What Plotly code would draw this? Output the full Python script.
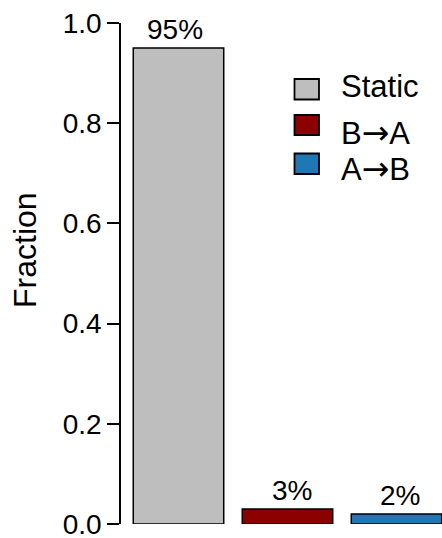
import plotly.graph_objects as go

# ---- data ----
categories = ["Static", "B→A", "A→B"]
fractions = [0.95, 0.03, 0.02]
bar_labels = ["95%", "3%", "2%"]
colors = ["#BEBEBE", "#8B0000", "#1F77B4"]
y_ticks = [0.0, 0.2, 0.4, 0.6, 0.8, 1.0]
y_ticklabels = ["0.0", "0.2", "0.4", "0.6", "0.8", "1.0"]

W, H = 442, 538
ML, MR, MT, MB = 121, 0, 23, 14
PW, PH = W - ML - MR, H - MT - MB
FONT = "Liberation Sans, Arial, Helvetica, sans-serif"


def px_x(px):
    return (px - ML) / PW


def px_y(py):
    return (H - MB - py) / PH


def legend_text(s):
    return s.replace("→", "<span style='font-family:DejaVu Sans;font-size:33px'>→</span>")


fig = go.Figure()
fig.add_trace(go.Bar(
    x=categories,
    y=fractions,
    marker=dict(color=colors, line=dict(color="black", width=1.5)),
    showlegend=False,
    hoverinfo="x+y",
))

# value labels above bars
label_shift = [-4, 5, 4]
for c, v, t, s in zip(categories, fractions, bar_labels, label_shift):
    fig.add_annotation(x=c, y=v, text=t, showarrow=False, yanchor="bottom",
                       xanchor="center", xshift=s, yshift=1,
                       font=dict(size=28, color="black", family=FONT))

# y title
fig.add_annotation(xref="paper", yref="paper", x=px_x(24.5), y=px_y(250.5),
                   text="Fraction", textangle=-90, showarrow=False,
                   xanchor="center", yanchor="middle",
                   font=dict(size=32, color="black", family=FONT))

# manual legend
box_rows = [(79, 99.5), (115, 135), (153.5, 174)]
text_centers = [86.5, 132, 168.5]
for c, col, (t0, t1), tc in zip(categories, colors, box_rows, text_centers):
    fig.add_shape(type="rect", xref="paper", yref="paper",
                  x0=px_x(294.5), x1=px_x(319), y0=px_y(t1), y1=px_y(t0),
                  fillcolor=col, line=dict(color="black", width=1.8))
    fig.add_annotation(xref="paper", yref="paper", x=px_x(340), y=px_y(tc),
                       text=legend_text(c), showarrow=False, xanchor="left",
                       yanchor="middle", borderpad=0,
                       font=dict(size=31, color="black", family=FONT))

fig.update_layout(
    width=W, height=H,
    margin=dict(l=ML, r=MR, t=MT, b=MB, pad=0, autoexpand=False),
    plot_bgcolor="white", paper_bgcolor="white",
    bargap=0.17,
    font=dict(family=FONT, color="black"),
    xaxis=dict(visible=False, range=[-0.5275, 2.4175], automargin=False),
    yaxis=dict(range=[0, 1], tickvals=y_ticks, ticktext=y_ticklabels,
               showline=True, linecolor="black", linewidth=1.5,
               ticks="outside", ticklen=12, tickwidth=1.5, tickcolor="black",
               showgrid=False, zeroline=False, ticklabelstandoff=0,
               ticklabeloverflow="allow", automargin=False,
               tickfont=dict(size=28, color="black", family=FONT)),
)

fig.write_html(
    "out.html",
    config={"displayModeBar": False},
    post_script="document.body.style.margin='0';document.body.style.overflow='hidden';",
)
